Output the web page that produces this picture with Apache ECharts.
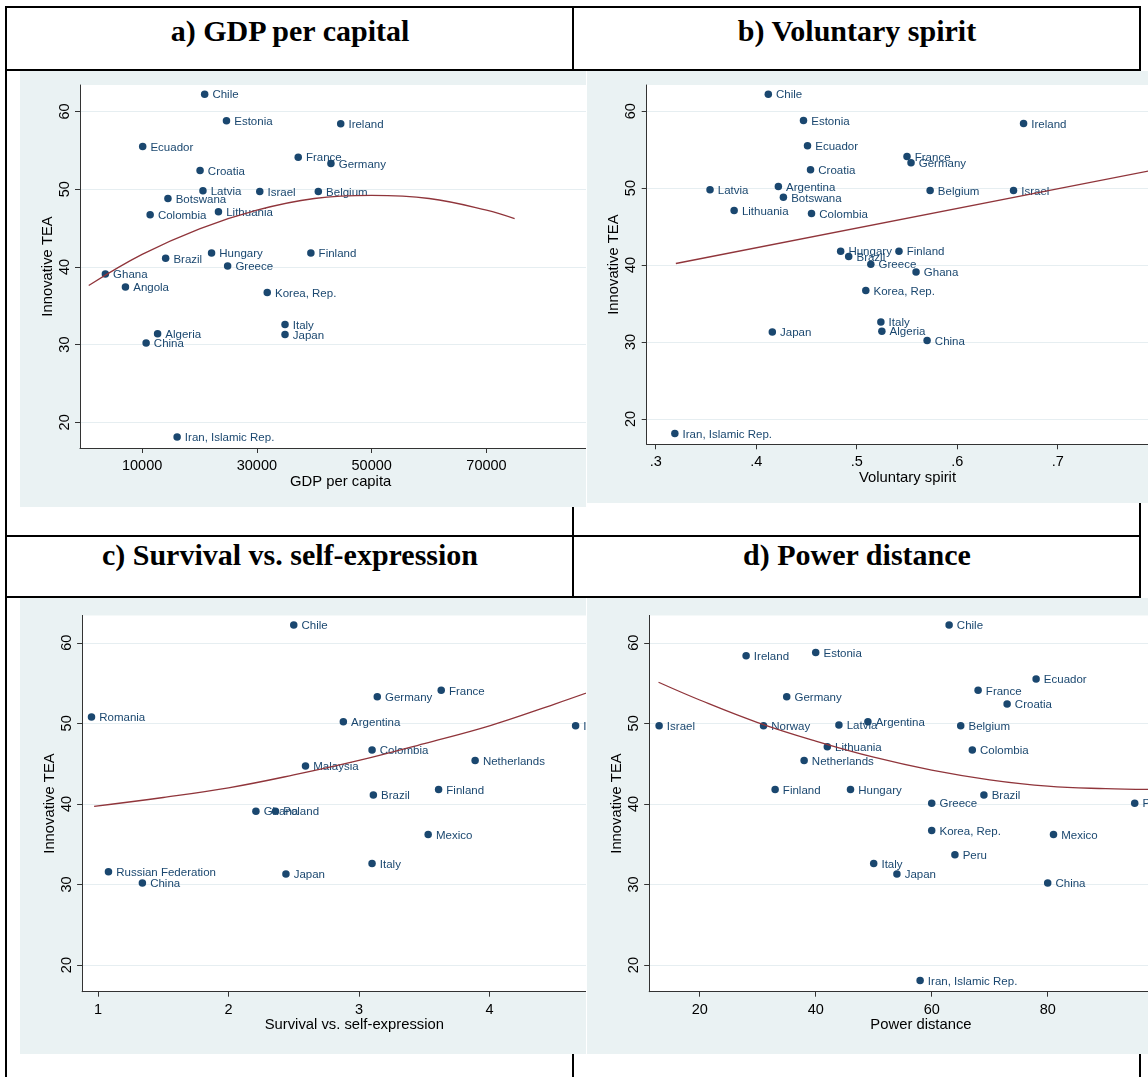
<!DOCTYPE html>
<html>
<head>
<meta charset="utf-8">
<script src="https://cdn.jsdelivr.net/npm/echarts@6/dist/echarts.min.js"></script>
<style>
  html, body { margin: 0; padding: 0; background: #fff; overflow: hidden; }
  #page { position: relative; width: 1148px; height: 1077px; overflow: hidden; background: #fff; }
  .ln { position: absolute; background: #000; z-index: 1; }
  .ttl { position: absolute; width: 566px; text-align: center; font-family: 'Liberation Serif', 'Times New Roman', serif;
         font-weight: bold; font-size: 30px; line-height: 30px; color: #000; white-space: nowrap; z-index: 1; }
  .pn { position: absolute; background: #eaf2f3; overflow: hidden; z-index: 2; }
</style>
</head>
<body>
<div id="page">
  <!-- table rules -->
  <div class="ln" style="left:5px;top:6px;width:1136px;height:2px"></div>
  <div class="ln" style="left:5px;top:69px;width:1136px;height:2px"></div>
  <div class="ln" style="left:5px;top:535px;width:1136px;height:2px"></div>
  <div class="ln" style="left:5px;top:596px;width:1136px;height:2px"></div>
  <div class="ln" style="left:5px;top:6px;width:2px;height:1071px"></div>
  <div class="ln" style="left:572px;top:6px;width:2px;height:1071px"></div>
  <div class="ln" style="left:1139px;top:6px;width:2px;height:1071px"></div>

  <div class="ttl" style="left:7px;top:16px">a) GDP per capital</div>
  <div class="ttl" style="left:574px;top:16px">b) Voluntary spirit</div>
  <div class="ttl" style="left:7px;top:540px">c) Survival vs. self-expression</div>
  <div class="ttl" style="left:574px;top:540px">d) Power distance</div>

  <div class="pn" id="pa" style="left:20px;top:71px;width:566px;height:436px"></div>
  <div class="pn" id="pb" style="left:587px;top:71px;width:561px;height:432px"></div>
  <div class="pn" id="pc" style="left:20px;top:598px;width:566px;height:456px"></div>
  <div class="pn" id="pd" style="left:587px;top:598px;width:561px;height:456px"></div>
</div>

<script>
// ---------- shared y axis ----------
const teaTicks = [20, 30, 40, 50, 60];
const teaTickLabels = ['20', '30', '40', '50', '60'];

// ---------- a) GDP per capita ----------
const countriesA = ['Chile', 'Estonia', 'Ireland', 'Ecuador', 'France', 'Germany', 'Croatia', 'Latvia', 'Israel', 'Belgium',
  'Botswana', 'Lithuania', 'Colombia', 'Hungary', 'Finland', 'Brazil', 'Greece', 'Ghana', 'Angola', 'Korea, Rep.',
  'Italy', 'Japan', 'Algeria', 'China', 'Iran, Islamic Rep.'];
const gdpA = [20900, 24700, 44600, 10100, 37200, 42900, 20100, 20600, 30500, 40700,
  14500, 23300, 11400, 22100, 39400, 14100, 24900, 3600, 7100, 31800,
  34900, 34900, 12700, 10700, 16100];
const teaA = [62.2, 58.8, 58.4, 55.5, 54.1, 53.3, 52.4, 49.8, 49.7, 49.7,
  48.8, 47.1, 46.7, 41.8, 41.8, 41.1, 40.1, 39.1, 37.4, 36.7,
  32.6, 31.3, 31.4, 30.2, 18.1];
const fitAx = [700, 10000, 20000, 30000, 40000, 50000, 60000, 70000, 74900];
const fitAy = [37.6, 41.6, 44.9, 47.3, 48.8, 49.2, 48.8, 47.3, 46.2];
const ticksA = [10000, 30000, 50000, 70000];
const tickLabelsA = ['10000', '30000', '50000', '70000'];

// ---------- b) Voluntary spirit ----------
const countriesB = ['Chile', 'Estonia', 'Ireland', 'Ecuador', 'Croatia', 'France', 'Germany', 'Latvia', 'Argentina', 'Botswana',
  'Belgium', 'Israel', 'Lithuania', 'Colombia', 'Hungary', 'Finland', 'Brazil', 'Greece', 'Ghana', 'Korea, Rep.',
  'Italy', 'Algeria', 'China', 'Japan', 'Iran, Islamic Rep.'];
const volB = [0.412, 0.447, 0.666, 0.451, 0.454, 0.550, 0.554, 0.354, 0.422, 0.427,
  0.573, 0.656, 0.378, 0.455, 0.484, 0.542, 0.492, 0.514, 0.559, 0.509,
  0.524, 0.525, 0.570, 0.416, 0.319];
const teaB = [62.2, 58.8, 58.4, 55.5, 52.4, 54.1, 53.3, 49.8, 50.2, 48.8,
  49.7, 49.7, 47.1, 46.7, 41.8, 41.8, 41.1, 40.1, 39.1, 36.7,
  32.6, 31.4, 30.2, 31.3, 18.1];
const fitBx = [0.32, 0.79];
const fitBy = [40.2, 52.2];
const ticksB = [0.3, 0.4, 0.5, 0.6, 0.7];
const tickLabelsB = ['.3', '.4', '.5', '.6', '.7'];

// ---------- c) Survival vs. self-expression ----------
const countriesC = ['Chile', 'Germany', 'France', 'Romania', 'Argentina', 'Israel', 'Colombia', 'Malaysia', 'Netherlands',
  'Brazil', 'Finland', 'Ghana', 'Poland', 'Mexico', 'Italy', 'Russian Federation', 'Japan', 'China'];
const survC = [2.50, 3.14, 3.63, 0.95, 2.88, 4.66, 3.10, 2.59, 3.89,
  3.11, 3.61, 2.21, 2.36, 3.53, 3.10, 1.08, 2.44, 1.34];
const teaC = [62.2, 53.3, 54.1, 50.8, 50.2, 49.7, 46.7, 44.7, 45.4,
  41.1, 41.8, 39.1, 39.1, 36.2, 32.6, 31.6, 31.3, 30.2];
const fitCx = [0.97, 1.5, 2, 2.5, 3, 3.5, 4, 4.5, 4.8];
const fitCy = [39.7, 40.8, 42.0, 43.6, 45.4, 47.5, 49.7, 52.4, 54.1];
const ticksC = [1, 2, 3, 4];
const tickLabelsC = ['1', '2', '3', '4'];

// ---------- d) Power distance ----------
const countriesD = ['Chile', 'Ireland', 'Estonia', 'Ecuador', 'France', 'Croatia', 'Germany', 'Israel', 'Norway', 'Latvia',
  'Argentina', 'Belgium', 'Lithuania', 'Colombia', 'Netherlands', 'Finland', 'Hungary', 'Brazil', 'Greece', 'Panama',
  'Korea, Rep.', 'Mexico', 'Peru', 'Italy', 'Japan', 'China', 'Iran, Islamic Rep.'];
const pdD = [63, 28, 40, 78, 68, 73, 35, 13, 31, 44,
  49, 65, 42, 67, 38, 33, 46, 69, 60, 95,
  60, 81, 64, 50, 54, 80, 58];
const teaD = [62.2, 58.4, 58.8, 55.5, 54.1, 52.4, 53.3, 49.7, 49.7, 49.8,
  50.2, 49.7, 47.1, 46.7, 45.4, 41.8, 41.8, 41.1, 40.1, 40.1,
  36.7, 36.2, 33.7, 32.6, 31.3, 30.2, 18.1];
const fitDx = [12.9, 20, 30, 40, 50, 60, 70, 80, 90, 98];
const fitDy = [55.1, 52.9, 50.1, 47.8, 45.8, 44.2, 43.0, 42.2, 41.9, 41.8];
const ticksD = [20, 40, 60, 80];
const tickLabelsD = ['20', '40', '60', '80'];

const FONT = "'Liberation Sans', Arial, Helvetica, sans-serif";
const NAVY = '#1a476f';
const MAROON = '#90353b';

function buildPanel(elId, cfg) {
  const chart = echarts.init(document.getElementById(elId), null, { renderer: 'canvas' });
  const pts = cfg.names.map((n, i) => [cfg.xs[i], cfg.ys[i], n]);
  const fit = cfg.fx.map((x, i) => [x, cfg.fy[i]]);
  chart.setOption({
    animation: false,
    backgroundColor: 'transparent',
    textStyle: { fontFamily: FONT },
    grid: {
      left: cfg.grid[0], top: cfg.grid[1], width: cfg.grid[2], height: cfg.grid[3],
      show: true, backgroundColor: '#ffffff', borderWidth: 0,
      containLabel: false, outerBoundsMode: 'none'
    },
    xAxis: {
      type: 'value', min: cfg.xmin, max: cfg.xmax,
      name: cfg.xname, nameLocation: 'middle', nameGap: 26, nameMoveOverlap: false,
      nameTextStyle: { fontSize: 14.8, color: '#000', fontFamily: FONT },
      axisLine: { show: true, onZero: false, lineStyle: { color: '#333', width: 1 } },
      axisTick: { show: true, inside: false, length: 5, customValues: cfg.xticks, lineStyle: { color: '#333', width: 1 } },
      axisLabel: {
        show: true, customValues: cfg.xticks, margin: 10.5, fontSize: 14.5, color: '#000', fontFamily: FONT,
        showMinLabel: true, showMaxLabel: true,
        formatter: v => { const k = cfg.xticks.indexOf(v); return k >= 0 ? cfg.xlabels[k] : ''; }
      },
      splitLine: { show: false }
    },
    yAxis: {
      type: 'value', min: 16.7, max: 63.4,
      name: 'Innovative TEA', nameLocation: 'middle', nameGap: 25, nameMoveOverlap: false,
      nameTextStyle: { fontSize: 14.8, color: '#000', fontFamily: FONT },
      axisLine: { show: true, onZero: false, lineStyle: { color: '#333', width: 1 } },
      axisTick: { show: true, inside: false, length: 5, customValues: teaTicks, lineStyle: { color: '#333', width: 1 } },
      axisLabel: {
        show: true, customValues: teaTicks, rotate: 90, margin: 8, fontSize: 14.5, color: '#000', fontFamily: FONT,
        formatter: v => { const k = teaTicks.indexOf(v); return k >= 0 ? teaTickLabels[k] : ''; }
      },
      splitLine: { show: true, lineStyle: { color: '#e6eef1', width: 1 } }
    },
    series: [
      {
        type: 'scatter', data: pts, symbol: 'circle', symbolSize: 7.5, z: 2,
        itemStyle: { color: NAVY, opacity: 1 },
        label: {
          show: true, position: 'right', distance: 4, offset: [0, 1],
          formatter: p => p.data[2], fontSize: 11.5, color: NAVY, fontFamily: FONT
        },
        emphasis: { disabled: true }
      },
      {
        type: 'line', data: fit, smooth: 0.4, symbol: 'none', z: 3,
        lineStyle: { color: MAROON, width: 1.3 },
        emphasis: { disabled: true }
      }
    ]
  });
}

buildPanel('pa', {
  names: countriesA, xs: gdpA, ys: teaA, fx: fitAx, fy: fitAy,
  xticks: ticksA, xlabels: tickLabelsA, xmin: -819, xmax: 90000, xname: 'GDP per capita',
  grid: [60, 14, 521.3, 363]
});
buildPanel('pb', {
  names: countriesB, xs: volB, ys: teaB, fx: fitBx, fy: fitBy,
  xticks: ticksB, xlabels: tickLabelsB, xmin: 0.291, xmax: 0.81, xname: 'Voluntary spirit',
  grid: [59.7, 14, 521.6, 359.3]
});
buildPanel('pc', {
  names: countriesC, xs: survC, ys: teaC, fx: fitCx, fy: fitCy,
  xticks: ticksC, xlabels: tickLabelsC, xmin: 0.878, xmax: 5.05, xname: 'Survival vs. self-expression',
  grid: [62.1, 17.4, 544.4, 376.3]
});
buildPanel('pd', {
  names: countriesD, xs: pdD, ys: teaD, fx: fitDx, fy: fitDy,
  xticks: ticksD, xlabels: tickLabelsD, xmin: 11.29, xmax: 105, xname: 'Power distance',
  grid: [62.2, 17.4, 543.5, 376.3]
});
</script>
</body>
</html>
